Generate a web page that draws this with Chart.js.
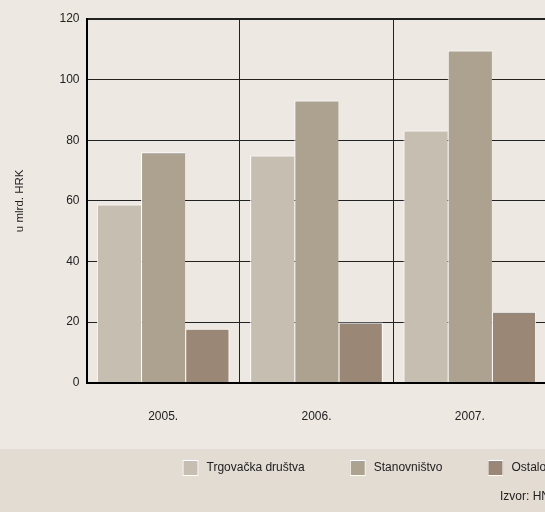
<!DOCTYPE html>
<html>
<head>
<meta charset="utf-8">
<script src="https://cdn.jsdelivr.net/npm/chart.js@4"></script>
<style>
  html, body { margin: 0; padding: 0; overflow: hidden; background: #ede8e2; }
  canvas { display: block; }
</style>
</head>
<body>
<canvas id="myChart" width="560" height="512"></canvas>
<script>
// data
const years = ['2005.', '2006.', '2007.'];
const trgovacka = [58.8, 75, 83.2];
const stanovnistvo = [76, 93.1, 109.6];
const ostalo = [17.8, 19.9, 23.4];
const seriesNames = ['Trgovačka društva', 'Stanovništvo', 'Ostalo'];
const sourceText = 'Izvor: HNB';

const colors = ['#c7beb2', '#ada28f', '#9a8776'];
const FONT = "'Liberation Sans', Arial, sans-serif";

// background + bottom band, legend and source line
const bandPlugin = {
  id: 'band',
  beforeDraw(chart) {
    const ctx = chart.ctx;
    ctx.save();
    ctx.fillStyle = '#ede8e2';
    ctx.fillRect(0, 0, chart.width, chart.height);
    ctx.fillStyle = '#e3dcd2';
    ctx.fillRect(0, 449, chart.width, chart.height - 449);
    ctx.restore();
  },
  afterDraw(chart) {
    const ctx = chart.ctx;
    ctx.save();
    ctx.font = '12px ' + FONT;
    ctx.textBaseline = 'alphabetic';
    ctx.textAlign = 'left';
    let x = 182.5;
    chart.data.datasets.forEach(ds => {
      ctx.fillStyle = ds.backgroundColor;
      ctx.fillRect(x, 460, 16, 16);
      ctx.strokeStyle = '#ffffff';
      ctx.lineWidth = 1;
      ctx.strokeRect(x + 0.5, 460.5, 15, 15);
      ctx.fillStyle = '#222';
      ctx.fillText(ds.label, x + 24, 470.5);
      x += 24 + ctx.measureText(ds.label).width + 45;
    });
    ctx.fillText(sourceText, 500, 499.5);
    ctx.restore();
  }
};

const data = {
  labels: years,
  datasets: [{
    label: seriesNames[0],
    data: trgovacka,
    backgroundColor: colors[0],
    borderColor: '#ffffff',
    borderWidth: {top: 1, left: 1, right: 0, bottom: 0}
  }, {
    label: seriesNames[1],
    data: stanovnistvo,
    backgroundColor: colors[1],
    borderColor: '#ffffff',
    borderWidth: {top: 1, left: 1, right: 0, bottom: 0}
  }, {
    label: seriesNames[2],
    data: ostalo,
    backgroundColor: colors[2],
    borderColor: '#ffffff',
    borderWidth: {top: 1, left: 1, right: 1, bottom: 0}
  }]
};

const config = {
  type: 'bar',
  data,
  options: {
    responsive: false,
    animation: false,
    devicePixelRatio: 1,
    categoryPercentage: 0.865,
    barPercentage: 1,
    layout: {
      padding: {left: 0, right: 13.5, top: 19, bottom: 61.7}
    },
    plugins: {
      legend: {display: false},
      tooltip: {enabled: false}
    },
    scales: {
      x: {
        grid: {
          offset: true,
          color: '#222',
          lineWidth: 1,
          drawTicks: false
        },
        border: {display: true, color: '#000', width: 2, z: 1},
        ticks: {
          color: '#222',
          padding: 26.6,
          font: {family: FONT, size: 12}
        }
      },
      y: {
        min: 0,
        max: 120,
        afterFit(scale) { scale.width = 86.5; },
        grid: {
          color: '#222',
          lineWidth: ctx => ctx.tick && ctx.tick.value === 120 ? 2 : 1,
          drawTicks: false
        },
        border: {display: true, color: '#000', width: 2, z: 1},
        ticks: {
          stepSize: 20,
          color: '#222',
          padding: 7,
          font: {family: FONT, size: 12}
        },
        title: {
          display: true,
          text: 'u mlrd. HRK',
          color: '#222',
          padding: {top: 13, bottom: 0},
          font: {family: FONT, size: 11.5}
        }
      }
    }
  },
  plugins: [bandPlugin]
};

const myChart = new Chart(document.getElementById('myChart'), config);
</script>
</body>
</html>
